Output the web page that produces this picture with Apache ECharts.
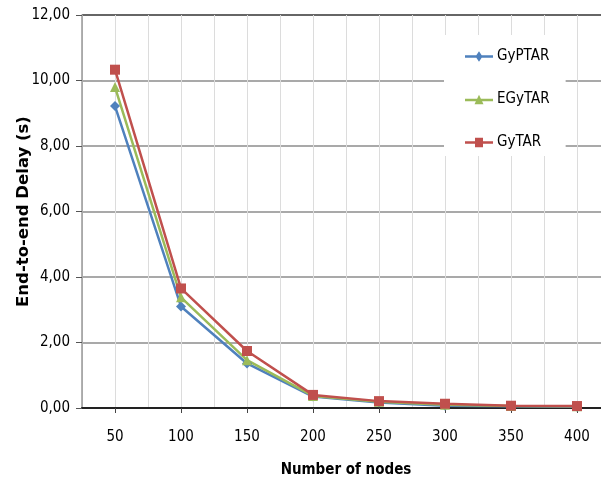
<!DOCTYPE html>
<html><head><meta charset="utf-8">
<script src="https://cdn.jsdelivr.net/npm/echarts@6/dist/echarts.min.js"></script>
<style>html,body{margin:0;padding:0;background:#fff}#c{width:601px;height:485px}</style>
</head><body><div id="c"></div>
<script>
var categories = ['50','100','150','200','250','300','350','400'];
var gyptar = [9.22, 3.10, 1.36, 0.35, 0.17, 0.07, 0.05, 0.04];
var egytar = [9.80, 3.38, 1.46, 0.37, 0.19, 0.10, 0.06, 0.05];
var gytar  = [10.33, 3.65, 1.74, 0.40, 0.21, 0.13, 0.07, 0.06];
var seriesNames = ['GyPTAR','EGyTAR','GyTAR'];
var yTicks = [0, 2, 4, 6, 8, 10, 12];

var font = '"Liberation Sans Narrow", "DejaVu Sans Condensed", "Open Sans", sans-serif';
var lineBar = 'M0,5 L28,5 L28,7.4 L0,7.4 Z ';
var iconDiamond = 'path://' + lineBar + 'M14,1 L17.5,6.2 L14,11.4 L10.5,6.2 Z';
var iconTri = 'path://' + lineBar + 'M14,1 L18.5,10.4 L9.5,10.4 Z';
var iconRect = 'path://' + lineBar + 'M10,1.5 L18,1.5 L18,10.9 L10,10.9 Z';
var chart = echarts.init(document.getElementById('c'), null, {renderer:'canvas'});
function ser(name, data, color, symbol, size) {
  return {name:name, type:'line', xAxisIndex:0, yAxisIndex:0, data:data,
    symbol:symbol, symbolSize:size, color:color,
    lineStyle:{color:color, width:2.5}, itemStyle:{color:color}, z:5, animation:false};
}
var splitColors = yTicks.map(function(v, i){ return i === yTicks.length - 1 ? '#333' : '#8c8c8c'; });
chart.setOption({
  animation:false,
  backgroundColor:'#fff',
  grid:{left:82, right:-9, top:15, bottom:77, containLabel:false, outerBoundsMode:'none'},
  legend:{
    orient:'vertical', left:444, top:35, itemGap:28, itemWidth:28, itemHeight:12,
    padding:[14,16,6,21], backgroundColor:'#fff', z:10,
    textStyle:{fontFamily:font, fontSize:15, color:'#000', padding:[0,0,0,-1]},
    data:[{name:seriesNames[0], icon:iconDiamond},{name:seriesNames[1], icon:iconTri},{name:seriesNames[2], icon:iconRect}]
  },
  xAxis:[
    {type:'category', data:categories, boundaryGap:true,
     axisLine:{show:true, lineStyle:{color:'#222', width:2}},
     axisTick:{show:true, alignWithLabel:true, length:5, lineStyle:{color:'#444'}},
     axisLabel:{fontFamily:font, fontSize:15, color:'#000', margin:22},
     splitLine:{show:false},
     name:'Number of nodes', nameLocation:'middle', nameGap:55,
     nameTextStyle:{fontFamily:font, fontSize:15, fontWeight:'bold', color:'#000'}},
    {type:'value', min:25, max:425, interval:25, position:'bottom',
     axisLine:{show:false}, axisTick:{show:false}, axisLabel:{show:false},
     splitLine:{show:true, lineStyle:{color:'#dcdcdc', width:1}}}
  ],
  yAxis:{type:'value', min:yTicks[0], max:yTicks[yTicks.length-1], interval:2,
    axisLine:{show:true, lineStyle:{color:'#999', width:1.5}},
    axisTick:{show:true, inside:false, length:6, lineStyle:{color:'#555'}},
    axisLabel:{fontFamily:font, fontSize:15, color:'#000', margin:12,
      formatter:function(v){return v.toFixed(2).replace('.', ',');}},
    splitLine:{show:true, lineStyle:{color:splitColors, width:1.5}},
    name:'End-to-end Delay (s)', nameLocation:'middle', nameGap:50, nameRotate:90, nameMoveOverlap:false,
    nameTextStyle:{fontFamily:'"DejaVu Sans", sans-serif', fontSize:16.5, fontWeight:'bold', color:'#000'}},
  series:[
    ser(seriesNames[0], gyptar, '#4F81BD', 'diamond', 10),
    ser(seriesNames[1], egytar, '#9BBB59', 'triangle', 10),
    ser(seriesNames[2], gytar, '#C0504D', 'rect', 10)
  ]
});
</script></body></html>
